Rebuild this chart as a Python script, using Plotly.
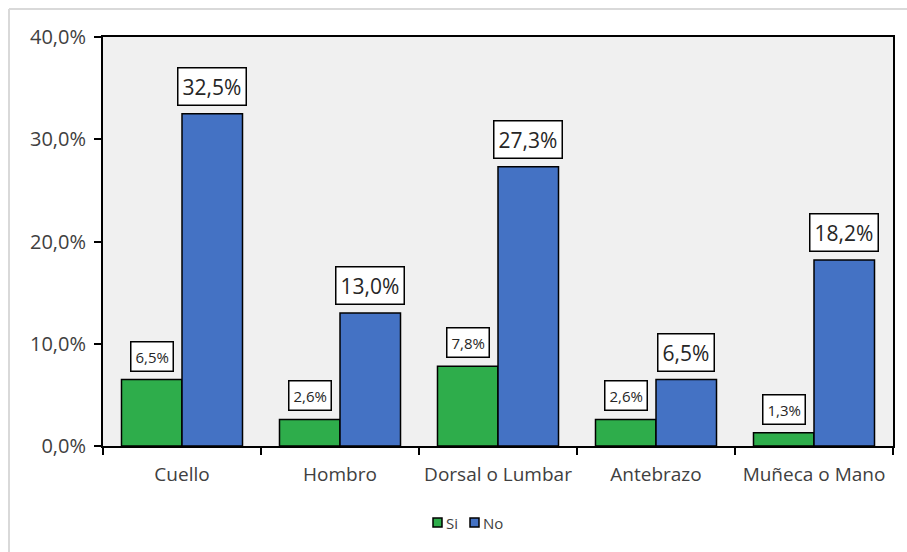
import plotly.graph_objects as go

# Regions of the body and share of responses per group
categories = ["Cuello", "Hombro", "Dorsal o Lumbar", "Antebrazo", "Muñeca o Mano"]
si_values = [6.5, 2.6, 7.8, 2.6, 1.3]
no_values = [32.5, 13.0, 27.3, 6.5, 18.2]
series_names = ["Si", "No"]
y_ticks = [0, 10, 20, 30, 40]
y_tick_labels = ["0,0%", "10,0%", "20,0%", "30,0%", "40,0%"]

GREEN = "#2EAD4B"
BLUE = "#4472C4"
FONT = "'Open Sans', sans-serif"

W, H = 907, 552
L, R, T, B = 103, 14, 37, 106
BARGAP = 0.234
plot_w = W - L - R
plot_h = H - T - B


def px_x(px):
    return (px - L) / plot_w


def px_y(py):
    return (H - B - py) / plot_h


fig = go.Figure()
fig.add_trace(go.Bar(name=series_names[0], x=categories, y=si_values, showlegend=False,
                     marker=dict(color=GREEN, line=dict(color="black", width=1.5))))
fig.add_trace(go.Bar(name=series_names[1], x=categories, y=no_values, showlegend=False,
                     marker=dict(color=BLUE, line=dict(color="black", width=1.5))))


def pct(v):
    return f"{v:.1f}%".replace(".", ",")


# offset of each bar centre from the category centre, in pixels
cat_w = plot_w / len(categories)
half_offset = cat_w * (1 - BARGAP) / 4

annotations = []
for c, s, n in zip(categories, si_values, no_values):
    annotations.append(dict(
        x=c, y=s, xref="x", yref="y", text=pct(s), showarrow=False,
        xshift=-half_offset, yshift=8, yanchor="bottom",
        font=dict(family=FONT, size=15, color="#262626"),
        bgcolor="white", bordercolor="black", borderwidth=1.5, borderpad=4))
    annotations.append(dict(
        x=c, y=n, xref="x", yref="y", text=pct(n), showarrow=False,
        xshift=half_offset, yshift=8, yanchor="bottom",
        font=dict(family=FONT, size=21, color="#262626"),
        bgcolor="white", bordercolor="black", borderwidth=1.5, borderpad=4))

# light frame along the top and left of the chart area
shapes = [
    dict(type="line", xref="paper", yref="paper", x0=px_x(9), x1=px_x(W + 5),
         y0=px_y(9), y1=px_y(9), line=dict(color="#D9D9D9", width=2)),
    dict(type="line", xref="paper", yref="paper", x0=px_x(9), x1=px_x(9),
         y0=px_y(9), y1=px_y(H + 5), line=dict(color="#D9D9D9", width=2)),
]

# compact legend below the plot: a small swatch followed by its name
legend_items = [(series_names[0], GREEN, 433), (series_names[1], BLUE, 470)]
for name, color, x_left in legend_items:
    shapes.append(dict(type="rect", xref="paper", yref="paper",
                       x0=px_x(x_left), x1=px_x(x_left + 9),
                       y0=px_y(527), y1=px_y(518),
                       fillcolor=color, line=dict(color="black", width=1.5)))
    annotations.append(dict(x=px_x(x_left + 11), y=px_y(522.5), xref="paper", yref="paper",
                            text=name, showarrow=False, xanchor="left", yanchor="middle",
                            font=dict(family=FONT, size=15, color="#404040")))

fig.update_layout(
    width=W, height=H,
    margin=dict(l=L, r=R, t=T, b=B, autoexpand=False),
    barmode="group", bargap=BARGAP, bargroupgap=0,
    plot_bgcolor="#F0F0F0", paper_bgcolor="white",
    font=dict(family=FONT, color="#404040"),
    annotations=annotations, shapes=shapes,
    showlegend=False,
)
fig.update_xaxes(
    showline=True, linecolor="black", linewidth=2, mirror=True,
    ticks="outside", tickson="boundaries", ticklen=7, tickwidth=2, tickcolor="black",
    tickfont=dict(size=19, color="#404040"), ticklabelstandoff=10, tickangle=0,
    automargin=False, showgrid=False,
)
fig.update_yaxes(
    range=[0, 40], tickvals=y_ticks, ticktext=y_tick_labels,
    showline=True, linecolor="black", linewidth=2, mirror=True,
    ticks="outside", ticklen=7, tickwidth=2, tickcolor="black",
    tickfont=dict(size=20, color="#404040"), ticklabelstandoff=4,
    automargin=False, showgrid=False, zeroline=False,
)

fig.write_html("out.html")
